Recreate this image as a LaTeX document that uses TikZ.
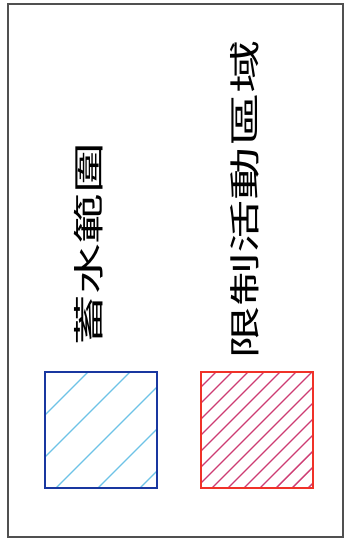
\documentclass[tikz,border=0pt]{standalone}
\usepackage{fontspec}
\usepackage{graphicx}
\newfontfamily\cjkfont{Noto Sans CJK TC}

\definecolor{framegray}{RGB}{80,80,80}
\definecolor{waterblue}{RGB}{25,55,160}
\definecolor{waterhatch}{RGB}{110,195,230}
\definecolor{zonered}{RGB}{240,50,40}
\definecolor{zonehatch}{RGB}{205,60,115}

\tikzset{
  legendbox/.style={draw, line width=2.8, minimum width=112, minimum height=116, inner sep=0},
  legendtext/.style={inner sep=0.75pt, rotate=90, font=\cjkfont\fontsize{31}{31}\selectfont},
}

\begin{document}
\begin{tikzpicture}[x=1pt,y=1pt,yscale=-1,xscale=1]
		\useasboundingbox (0,0) rectangle (350,546);
		
		%Shape: Rectangle [frame]
		\draw[framegray, line width=1.8] (8,4) rectangle (343,537);
		
		%Shape: Hatch [water]
		\begin{scope}
		\clip (45,372) rectangle (157,488);
		\foreach \u in {460,502,...,628}
		\draw[waterhatch, line width=1.4] (\u-372,372) -- (\u-488,488);
		\end{scope}
		%Shape: Hatch [zone]
		\begin{scope}
		\clip (201,372) rectangle (313,488);
		\foreach \u in {588,604,...,796}
		\draw[zonehatch, line width=1.4] (\u-372,372) -- (\u-488,488);
		\end{scope}
		
		%Shape: Square [water]
		\node[legendbox, waterblue] (water) at (101,430) {};
		%Shape: Square [zone]
		\node[legendbox, zonered] (zone) at (257,430) {};
		
		% Text Node
		\node[legendtext] (waterlabel) at (89,244) {\scalebox{1.64}[1]{蓄水範圍}};
		% Text Node
		\node[legendtext] (zonelabel) at (245,200) {\scalebox{1.72}[1]{限制活動區域}};
		
\end{tikzpicture}
\end{document}
